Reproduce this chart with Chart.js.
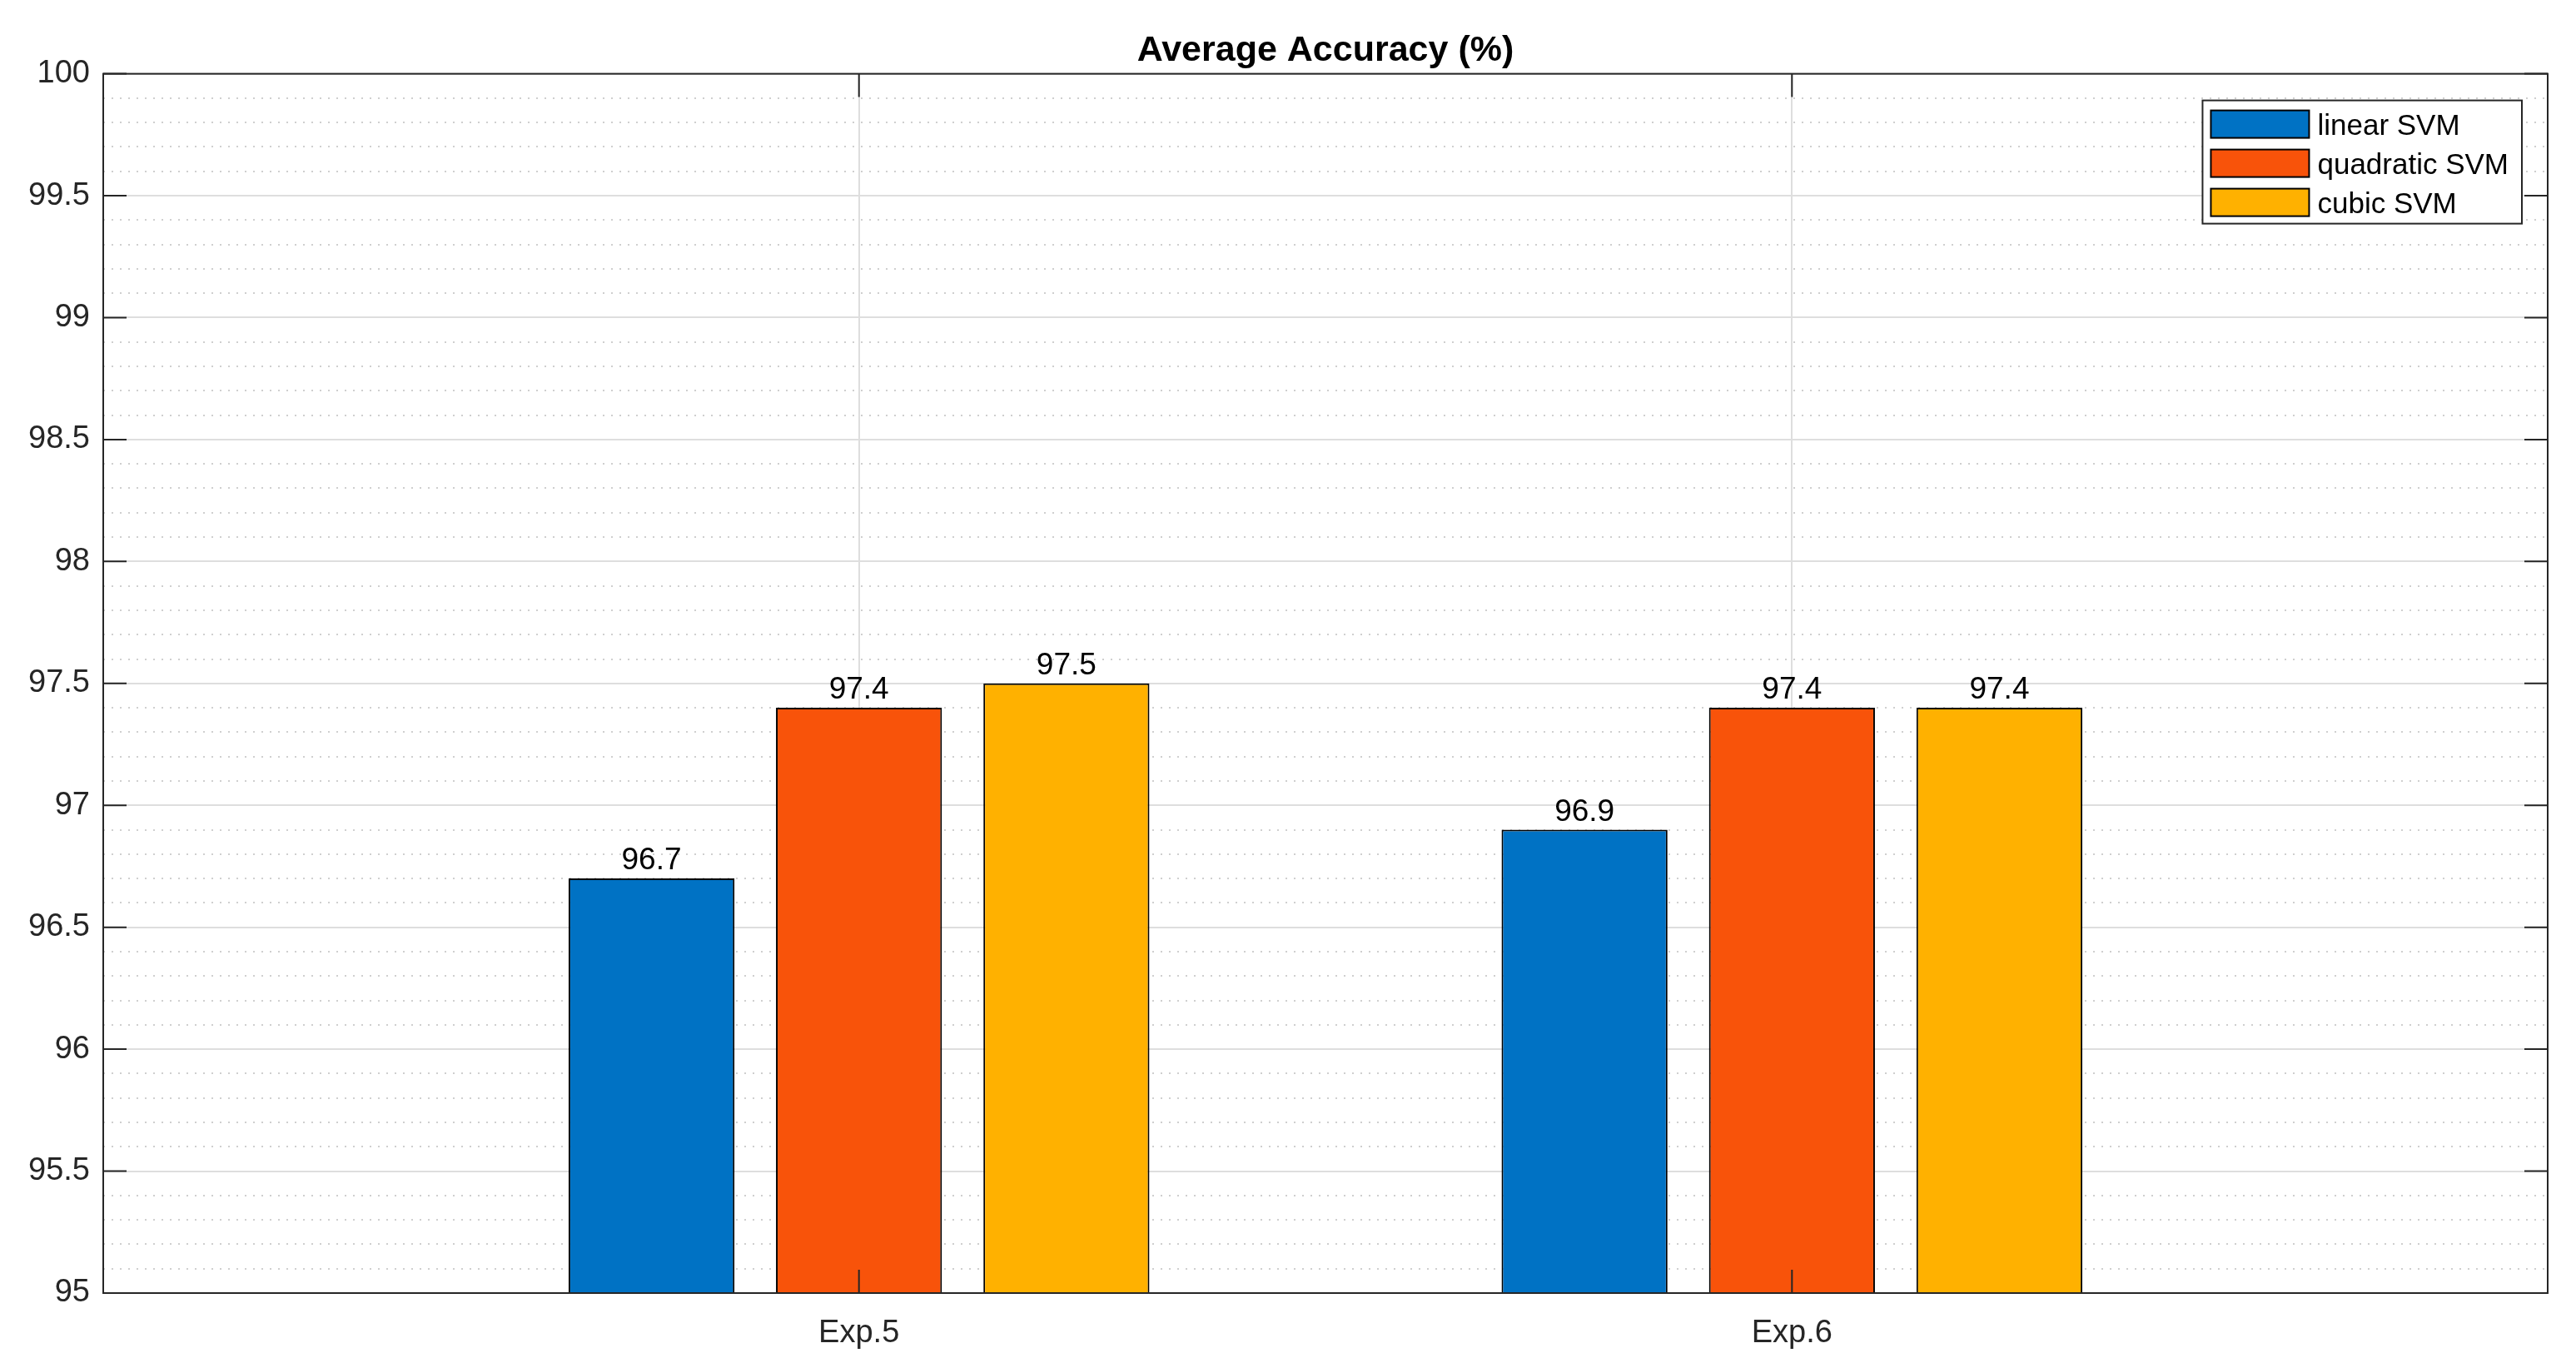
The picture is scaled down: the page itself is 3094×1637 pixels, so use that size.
<!DOCTYPE html>
<html>
<head>
<meta charset="utf-8">
<title>Average Accuracy (%)</title>
<script src="https://cdn.jsdelivr.net/npm/chart.js@4.4.1/dist/chart.umd.min.js"></script>
<style>
  html, body { margin: 0; padding: 0; background: #fff; }
  #wrap { width: 3094px; height: 1637px; }
</style>
</head>
<body>
<div id="wrap"><canvas id="accChart"></canvas></div>
<script>
// valores
const categories = ['Exp.5', 'Exp.6'];
const seriesNames = ['linear SVM', 'quadratic SVM', 'cubic SVM'];
const linearSvm = [96.7, 96.9];
const quadraticSvm = [97.4, 97.4];
const cubicSvm = [97.5, 97.4];
const yMin = 95;
const yMax = 100;
const yMajorStep = 0.5;
const yMinorStep = 0.1;

const seriesValues = [linearSvm, quadraticSvm, cubicSvm];
const seriesColors = ['rgb(0, 114, 196)', 'rgb(248, 83, 10)', 'rgb(255, 177, 0)'];
const fontFamily = '"Liberation Sans", Arial, Helvetica, sans-serif';
const axisColor = '#262626';

Chart.defaults.font.family = fontFamily;
Chart.defaults.color = axisColor;

// caja de ejes con marcas hacia dentro (estilo MATLAB)
const axesBox = {
    id: 'axesBox',
    afterDatasetsDraw(chart) {
        const { ctx, chartArea: a, scales } = chart;
        const len = 28;
        ctx.save();
        ctx.strokeStyle = axisColor;
        ctx.lineWidth = 2;
        ctx.beginPath();
        scales.y.ticks.forEach(t => {
            const py = scales.y.getPixelForValue(t.value);
            ctx.moveTo(a.left, py); ctx.lineTo(a.left + len, py);
            ctx.moveTo(a.right, py); ctx.lineTo(a.right - len, py);
        });
        scales.x.ticks.forEach(t => {
            const px = scales.x.getPixelForValue(t.value);
            ctx.moveTo(px, a.bottom); ctx.lineTo(px, a.bottom - len);
            ctx.moveTo(px, a.top); ctx.lineTo(px, a.top + len);
        });
        ctx.stroke();
        ctx.strokeRect(a.left, a.top, a.right - a.left, a.bottom - a.top);
        ctx.restore();
    }
};

// etiquetas encima de cada barra
const barLabels = {
    id: 'barLabels',
    afterDatasetsDraw(chart) {
        const ctx = chart.ctx;
        ctx.save();
        ctx.font = '37px ' + fontFamily;
        ctx.fillStyle = '#000';
        ctx.textAlign = 'center';
        ctx.textBaseline = 'alphabetic';
        chart.data.datasets.forEach((ds, i) => {
            chart.getDatasetMeta(i).data.forEach((bar, j) => {
                ctx.fillText(ds.data[j].y.toFixed(1), bar.x, bar.y - 11);
            });
        });
        ctx.restore();
    }
};

// leyenda dentro del area, arriba a la derecha
const boxLegend = {
    id: 'boxLegend',
    afterDraw(chart) {
        const { ctx, chartArea: a } = chart;
        const sets = chart.data.datasets;
        ctx.save();
        ctx.font = '35px ' + fontFamily;
        const textW = Math.max(...sets.map(ds => ctx.measureText(ds.label).width));
        const w = 138 + textW + 16;
        const h = 148;
        const left = a.right - 31 - w;
        const top = a.top + 32;
        ctx.fillStyle = '#fff';
        ctx.fillRect(left, top, w, h);
        ctx.strokeStyle = axisColor;
        ctx.lineWidth = 2;
        ctx.strokeRect(left, top, w, h);
        sets.forEach((ds, i) => {
            const cy = top + 28 + 47 * i;
            ctx.fillStyle = ds.backgroundColor;
            ctx.fillRect(left + 10, cy - 16, 118, 33);
            ctx.strokeStyle = '#000';
            ctx.strokeRect(left + 10, cy - 16, 118, 33);
            ctx.fillStyle = '#000';
            ctx.textAlign = 'left';
            ctx.textBaseline = 'middle';
            ctx.fillText(ds.label, left + 138, cy + 4);
        });
        ctx.restore();
    }
};

const ctx = document.getElementById('accChart').getContext('2d');
const accChart = new Chart(ctx, {
    type: 'bar',
    data: {
        datasets: seriesNames.map((name, i) => ({
            label: name,
            data: categories.map((c, j) => ({ x: j + 1, y: seriesValues[i][j] })),
            backgroundColor: seriesColors[i],
            borderColor: '#000',
            borderWidth: 2,
            categoryPercentage: 0.667,
            barPercentage: 0.8
        }))
    },
    options: {
        responsive: true,
        maintainAspectRatio: false,
        animation: false,
        devicePixelRatio: 1,
        layout: {
            padding: { left: 0, right: 34, top: 0, bottom: 0 }
        },
        scales: {
            x: {
                type: 'linear',
                min: 0.19,
                max: 2.81,
                offset: false,
                afterBuildTicks: scale => {
                    scale.ticks = categories.map((c, j) => ({ value: j + 1 }));
                },
                afterFit: scale => { scale.height = 84; },
                ticks: {
                    callback: (v, idx) => categories[idx],
                    padding: 26,
                    maxRotation: 0,
                    font: { size: 38 },
                    color: axisColor
                },
                grid: {
                    offset: false,
                    drawTicks: false,
                    color: '#dedede',
                    lineWidth: 2
                },
                border: { display: false }
            },
            yMinor: {
                type: 'linear',
                position: 'left',
                min: yMin,
                max: yMax,
                afterFit: scale => { scale.width = 0; },
                ticks: { display: false, stepSize: yMinorStep },
                grid: {
                    drawTicks: false,
                    color: c => {
                        const r = c.tick.value / yMajorStep;
                        return Math.abs(r - Math.round(r)) < 1e-6 ? 'rgba(0,0,0,0)' : '#cfcfcf';
                    },
                    lineWidth: 2,
                    borderDash: [2, 8]
                },
                border: { display: false, dash: [2, 8] }
            },
            y: {
                type: 'linear',
                position: 'left',
                min: yMin,
                max: yMax,
                afterFit: scale => { scale.width = 124; },
                ticks: {
                    stepSize: yMajorStep,
                    padding: 16,
                    font: { size: 38 },
                    color: axisColor,
                    callback: v => String(Number(v.toFixed(1)))
                },
                grid: {
                    drawTicks: false,
                    color: '#dedede',
                    lineWidth: 2
                },
                border: { display: false }
            }
        },
        plugins: {
            legend: { display: false },
            tooltip: { enabled: false },
            title: {
                display: true,
                fullSize: false,
                text: 'Average Accuracy (%)',
                color: '#000',
                font: { size: 43, weight: 'bold' },
                padding: { top: 35, bottom: 2 }
            }
        }
    },
    plugins: [axesBox, barLabels, boxLegend]
});
</script>
</body>
</html>
